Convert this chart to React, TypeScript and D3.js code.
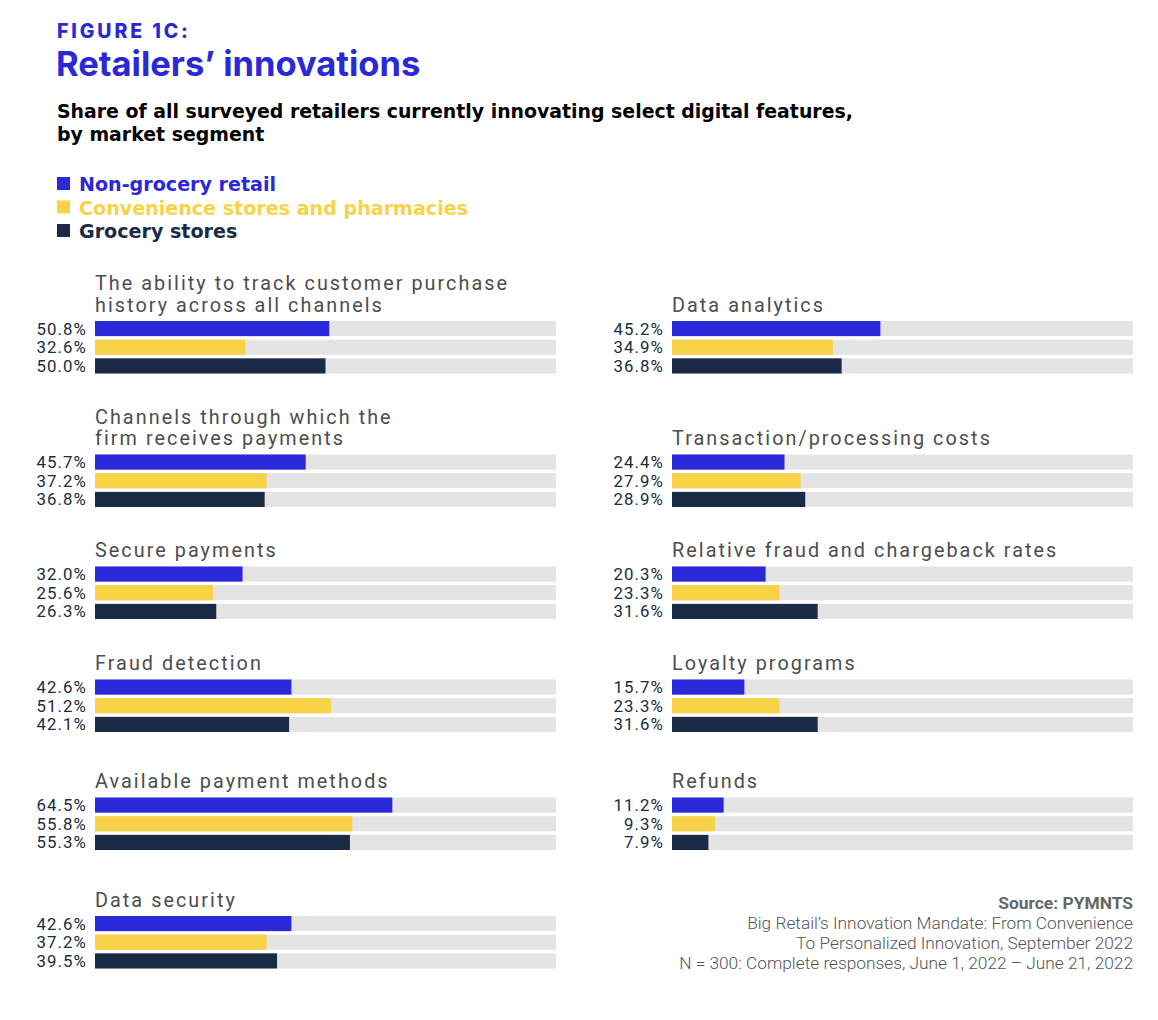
import React from "react";
import * as d3 from "d3";

const seriesNames = ["Non-grocery retail", "Convenience stores and pharmacies", "Grocery stores"];
const seriesColors = ["#2a28d8", "#f8d247", "#1b2a45"];

const leftTitles = [
  ["The ability to track customer purchase", "history across all channels"],
  ["Channels through which the", "firm receives payments"],
  ["Secure payments"],
  ["Fraud detection"],
  ["Available payment methods"],
  ["Data security"],
];
const leftNonGrocery = [50.8, 45.7, 32.0, 42.6, 64.5, 42.6];
const leftConvenience = [32.6, 37.2, 25.6, 51.2, 55.8, 37.2];
const leftGrocery = [50.0, 36.8, 26.3, 42.1, 55.3, 39.5];

const rightTitles = [
  ["Data analytics"],
  ["Transaction/processing costs"],
  ["Relative fraud and chargeback rates"],
  ["Loyalty programs"],
  ["Refunds"],
];
const rightNonGrocery = [45.2, 24.4, 20.3, 15.7, 11.2];
const rightConvenience = [34.9, 27.9, 23.3, 23.3, 9.3];
const rightGrocery = [36.8, 28.9, 31.6, 31.6, 7.9];

const sourceLines = [
  "Big Retail\u2019s Innovation Mandate: From Convenience",
  "To Personalized Innovation, September 2022",
  "N = 300: Complete responses, June 1, 2022 \u2013 June 21, 2022",
];

const W = 1158;
const H = 1020;
const rowTops = [321, 454.5, 566.5, 679.5, 797.5, 916];
const groupH = 52.5;
const headFont = "Inter, 'Noto Sans', sans-serif";
const wideFont = "'DejaVu Sans', 'Noto Sans', sans-serif";
const titleFont = "Roboto, 'Liberation Sans', sans-serif";
const labelFont = "Roboto, 'Liberation Sans', sans-serif";

function Panel({ x0, x1, top, title, values }: { x0: number; x1: number; top: number; title: string[]; values: number[] }) {
  const x = d3.scaleLinear().domain([0, 100]).range([x0, x1]);
  const y = d3.scaleBand<number>().domain([0, 1, 2]).range([top, top + groupH]).paddingInner(0.19);
  const n = title.length;
  return (
    <g>
      {title.map((t, i) => (
        <text key={i} x={x0} y={top - 9.5 - (n - 1 - i) * 21.5} fontFamily={titleFont} fontSize={19.8} letterSpacing={2.05} fill="#4d4d4f">
          {t}
        </text>
      ))}
      {values.map((v, i) => (
        <g key={i}>
          <rect x={x(0)} y={y(i)} width={x(100) - x(0)} height={y.bandwidth()} fill="#e4e4e4" />
          <rect x={x(0)} y={y(i)} width={x(v) - x(0)} height={y.bandwidth()} fill={seriesColors[i]} />
          <text x={x0 - 8} y={(y(i) as number) + y.bandwidth() / 2} dy="0.36em" textAnchor="end" fontFamily={labelFont} fontSize={16.8} letterSpacing={1.1} fill="#1b2a45">
            {v.toFixed(1)}%
          </text>
        </g>
      ))}
    </g>
  );
}

export default function App() {
  return (
    <svg width={W} height={H} style={{ position: "absolute", left: 0, top: 0, background: "#fff" }}>
      <text x={57} y={38} fontFamily={headFont} fontWeight={800} fontSize={19.5} letterSpacing={2.9} fill="#2a28d8">
        FIGURE 1C:
      </text>
      <text x={56} y={76} fontFamily={headFont} fontWeight={700} fontSize={34.5} fill="#2a28d8">
        Retailers’ innovations
      </text>
      <text fontFamily={wideFont} fontWeight={700} fontSize={18.9} fill="#000">
        <tspan x={57} y={118}>Share of all surveyed retailers currently innovating select digital features,</tspan>
        <tspan x={57} y={141}>by market segment</tspan>
      </text>
      {seriesNames.map((s, i) => (
        <g key={s}>
          <rect x={57} y={177 + i * 23.5} width={13} height={13} fill={seriesColors[i]} />
          <text x={79} y={191 + i * 23.5} fontFamily={wideFont} fontWeight={700} fontSize={19.1} fill={seriesColors[i]}>
            {s}
          </text>
        </g>
      ))}
      {leftTitles.map((t, i) => (
        <Panel key={"l" + i} x0={95} x1={556} top={rowTops[i]} title={t}
          values={[leftNonGrocery[i], leftConvenience[i], leftGrocery[i]]} />
      ))}
      {rightTitles.map((t, i) => (
        <Panel key={"r" + i} x0={672} x1={1133} top={rowTops[i]} title={t}
          values={[rightNonGrocery[i], rightConvenience[i], rightGrocery[i]]} />
      ))}
      <text x={1133} y={909} textAnchor="end" fontFamily="Roboto, sans-serif" fontWeight={700} fontSize={17.4} fill="#666">
        Source: PYMNTS
      </text>
      {sourceLines.map((l, i) => (
        <text key={i} x={1133} y={929 + i * 20} textAnchor="end" fontFamily="Roboto, sans-serif" fontWeight={300} fontSize={17.3} fill="#555">
          {l}
        </text>
      ))}
    </svg>
  );
}
